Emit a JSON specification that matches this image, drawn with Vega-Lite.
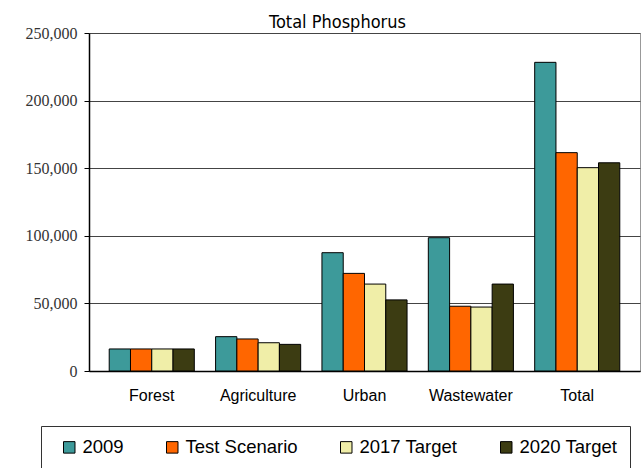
{
  "$schema": "https://vega.github.io/schema/vega-lite/v6.json",
  "autosize": {"type": "none"},
  "padding": {"left": 89, "top": 33, "right": 1, "bottom": 97},
  "width": 551,
  "height": 338,
  "background": "white",
  "title": {
    "text": "Total Phosphorus",
    "font": "DejaVu Sans Condensed, DejaVu Sans",
    "fontSize": 18,
    "fontWeight": "normal",
    "color": "black",
    "anchor": "middle",
    "dx": -27,
    "dy": 26,
    "offset": 5,
    "baseline": "alphabetic"
  },
  "data": {
    "values": [
      {"source": "Forest", "scenario": "2009", "load": 16300},
      {"source": "Forest", "scenario": "Test Scenario", "load": 16300},
      {"source": "Forest", "scenario": "2017 Target", "load": 16300},
      {"source": "Forest", "scenario": "2020 Target", "load": 16300},
      {"source": "Agriculture", "scenario": "2009", "load": 25400},
      {"source": "Agriculture", "scenario": "Test Scenario", "load": 23700},
      {"source": "Agriculture", "scenario": "2017 Target", "load": 20900},
      {"source": "Agriculture", "scenario": "2020 Target", "load": 19700},
      {"source": "Urban", "scenario": "2009", "load": 87500},
      {"source": "Urban", "scenario": "Test Scenario", "load": 72200},
      {"source": "Urban", "scenario": "2017 Target", "load": 64300},
      {"source": "Urban", "scenario": "2020 Target", "load": 52600},
      {"source": "Wastewater", "scenario": "2009", "load": 98600},
      {"source": "Wastewater", "scenario": "Test Scenario", "load": 47900},
      {"source": "Wastewater", "scenario": "2017 Target", "load": 47300},
      {"source": "Wastewater", "scenario": "2020 Target", "load": 64300},
      {"source": "Total", "scenario": "2009", "load": 228300},
      {"source": "Total", "scenario": "Test Scenario", "load": 161500},
      {"source": "Total", "scenario": "2017 Target", "load": 150400},
      {"source": "Total", "scenario": "2020 Target", "load": 154000}
    ]
  },
  "mark": {"type": "bar", "stroke": "black", "strokeWidth": 1},
  "encoding": {
    "x": {
      "field": "source",
      "type": "nominal",
      "sort": ["Forest", "Agriculture", "Urban", "Wastewater", "Total"],
      "scale": {"paddingInner": 0.2, "paddingOuter": 0.19},
      "axis": {
        "title": null,
        "labelAngle": 0,
        "labelFont": "Liberation Sans",
        "labelFontSize": 16,
        "labelColor": "black",
        "labelPadding": 16,
        "ticks": false,
        "domainColor": "black",
        "domainWidth": 1.5
      }
    },
    "xOffset": {
      "field": "scenario",
      "type": "nominal",
      "sort": ["2009", "Test Scenario", "2017 Target", "2020 Target"],
      "scale": {"paddingInner": 0, "paddingOuter": 0}
    },
    "y": {
      "field": "load",
      "type": "quantitative",
      "scale": {"domain": [0, 250000], "nice": false},
      "axis": {
        "title": null,
        "values": [0, 50000, 100000, 150000, 200000, 250000],
        "format": ",.0f",
        "labelFont": "Liberation Serif",
        "labelFontSize": 16,
        "labelColor": "#333333",
        "labelPadding": 7,
        "tickSize": 5,
        "tickColor": "black",
        "domainColor": "black",
        "domainWidth": 1.5,
        "grid": true,
        "gridColor": "#444444",
        "gridWidth": 1
      }
    },
    "fill": {
      "field": "scenario",
      "type": "nominal",
      "scale": {
        "domain": ["2009", "Test Scenario", "2017 Target", "2020 Target"],
        "range": ["#3d9a9a", "#ff6600", "#f0eea8", "#3c3c12"]
      },
      "legend": {
        "title": " ",
        "titleOrient": "left",
        "titleFontSize": 18,
        "titlePadding": 7,
        "orient": "none",
        "legendX": -48,
        "legendY": 393,
        "direction": "horizontal",
        "columns": 4,
        "columnPadding": 39,
        "padding": 12,
        "strokeColor": "#333333",
        "fillColor": "white",
        "symbolType": "square",
        "symbolSize": 132,
        "symbolStrokeColor": "black",
        "symbolStrokeWidth": 1,
        "labelFont": "Liberation Sans",
        "labelFontSize": 18.5,
        "labelColor": "black",
        "labelOffset": 4,
        "labelLimit": 300
      }
    }
  },
  "config": {
    "view": {"stroke": "#999999"},
    "axis": {"gridColor": "#444444"}
  }
}
